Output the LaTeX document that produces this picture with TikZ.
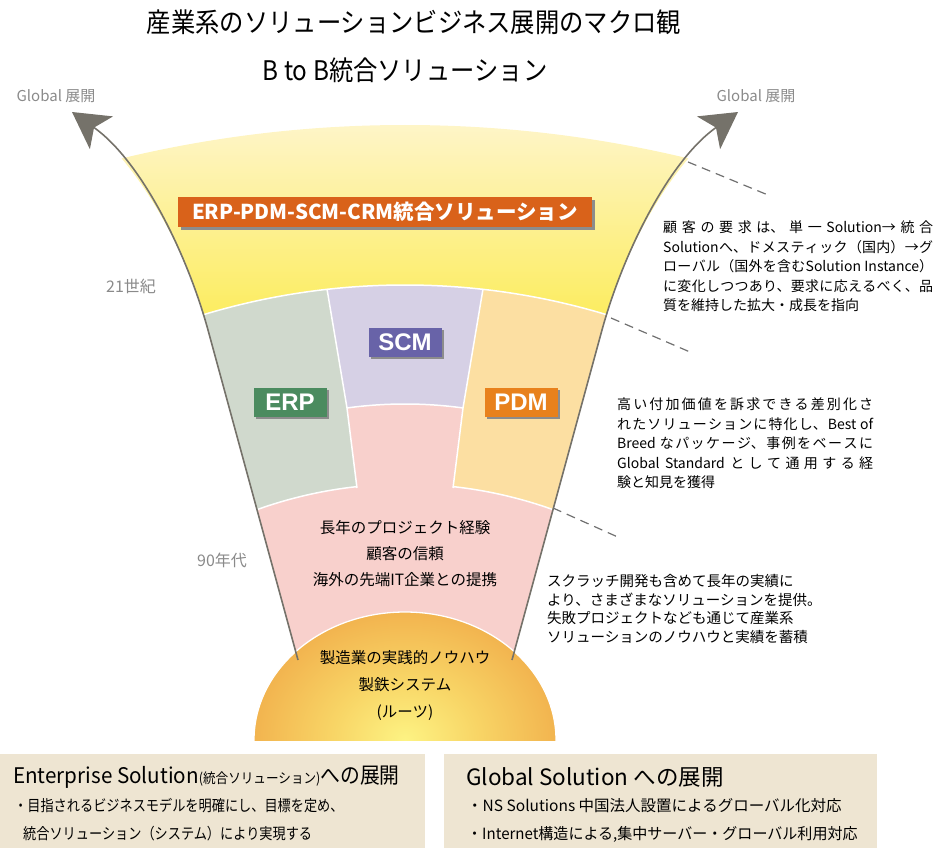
\documentclass[tikz,border=0pt]{standalone}
\usepackage{fontspec}
\usepackage{graphicx}
\setmainfont{Noto Sans CJK JP}
\newfontfamily\lsb{Liberation Sans}
\usetikzlibrary{arrows.meta,shadows}

\definecolor{fangray}{HTML}{75726A}
\definecolor{ytop}{HTML}{FEF5CA}
\definecolor{ybot}{HTML}{FCEC58}
\definecolor{pinkc}{HTML}{F8D0CC}
\definecolor{erpc}{HTML}{D0D9CD}
\definecolor{scmc}{HTML}{D6D0E5}
\definecolor{pdmc}{HTML}{FCDFA2}
\definecolor{erpbox}{HTML}{4B8B5F}
\definecolor{scmbox}{HTML}{6863A8}
\definecolor{pdmbox}{HTML}{E8811C}
\definecolor{bannerc}{HTML}{D9621A}
\definecolor{beige}{HTML}{EEE5D2}
\definecolor{labgray}{HTML}{8A8A8A}
\definecolor{dashc}{HTML}{707070}
\definecolor{domein}{HTML}{FDF383}
\definecolor{domemid}{HTML}{F8D566}
\definecolor{domeout}{HTML}{F2B44F}
\pgfdeclareradialshading{domeshade}{\pgfpoint{0bp}{0bp}}{color(0bp)=(domein); color(12bp)=(domemid); color(25bp)=(domeout); color(50bp)=(domeout)}

\newcommand\jasetup{\XeTeXlinebreaklocale "ja"\XeTeXlinebreakskip=0pt plus 3pt\relax}
\newcommand\notefont{\jasetup\fontsize{14}{19.5}\selectfont}

\def\fanpath{(306,690) -- (298,660) -- (208,330) .. controls (186,250) and (140,160) .. (72,112) -- (72,0) -- (738,0) -- (738,112) .. controls (670,160) and (624,250) .. (602,330) -- (512,660) -- (504,690) -- cycle}
\def\erpzone{(0,200) -- (312,200) -- (327,290) -- (347,408) -- (357,488) -- (367,600) -- (0,600) -- cycle}
\def\pdmzone{(945,200) -- (498,200) -- (483,290) -- (463,408) -- (453,488) -- (443,600) -- (945,600) -- cycle}
\def\scmzone{(312,200) -- (498,200) -- (483,290) -- (463,408) -- (453,488) -- (443,600) -- (367,600) -- (357,488) -- (347,408) -- (327,290) -- cycle}

\begin{document}
\begin{tikzpicture}[x=1pt,y=-1pt,
  fanline/.style={draw=fangray, line width=1.6pt},
  dashline/.style={draw=dashc, line width=1.2pt, dash pattern=on 9pt off 6pt},
  sepline/.style={draw=white, line width=1.5pt},
  lbl/.style={text=white, inner sep=0pt, font=\lsb\bfseries\fontsize{24}{24}\selectfont,
    minimum width=73pt, minimum height=29pt,
    drop shadow={shadow xshift=2.5pt, shadow yshift=-2.5pt, fill=black!45, opacity=1}},
  graylab/.style={text=labgray, inner sep=0pt, font=\fontsize{15}{15}\selectfont},
  body/.style={inner sep=0pt, align=center, font=\fontsize{15.5}{26}\selectfont},
  blk/.style={inner sep=0pt, anchor=north west, align=justify, font=\notefont},
  boxbg/.style={fill=beige, inner sep=0pt, anchor=north west, minimum height=94pt},
  boxtxt/.style={inner sep=0pt, anchor=west}
]
\useasboundingbox (0,0) rectangle (945,848);

% ---------- fan bands ----------
\begin{scope}
  \clip \fanpath;
  \begin{scope}
    \clip (405,1332) circle (1207);
    \shade[top color=ytop, bottom color=ybot] (60,120) rectangle (750,330);
  \end{scope}
  \fill[pinkc] (405,980) circle (695);
  \begin{scope}
    \clip (405,980) circle (695);
    \begin{scope}
      \clip \erpzone;
      \fill[erpc, even odd rule] (0,0) rectangle (945,848) (405,922) circle (438);
    \end{scope}
    \begin{scope}
      \clip \pdmzone;
      \fill[pdmc, even odd rule] (0,0) rectangle (945,848) (405,922) circle (438);
    \end{scope}
    \begin{scope}
      \clip \scmzone;
      \fill[scmc, even odd rule] (0,0) rectangle (945,848) (405,826) circle (422);
    \end{scope}
  \end{scope}
  \draw[sepline] (405,980) circle (695);
  \begin{scope}
    \clip \erpzone;
    \draw[sepline] (405,922) circle (438);
  \end{scope}
  \begin{scope}
    \clip \pdmzone;
    \draw[sepline] (405,922) circle (438);
  \end{scope}
  \begin{scope}
    \clip \scmzone;
    \draw[sepline] (405,826) circle (422);
  \end{scope}
  \draw[sepline] (327,289) -- (347,408) -- (357,488);
  \draw[sepline] (483,289) -- (463,408) -- (453,488);
\end{scope}

% ---------- dome ----------
\begin{scope}
  \clip (240,590) rectangle (570,740);
  \shade[shading=domeshade] (405,740) ellipse [x radius=151, y radius=128];
  \draw[white, line width=1.3pt] (405,740) ellipse [x radius=151, y radius=128];
\end{scope}

% ---------- fan edges with arrows ----------
\coordinate (lbot) at (298,660);
\coordinate (ltip) at (72,112);
\coordinate (rbot) at (512,660);
\coordinate (rtip) at (738,112);
\draw[fanline, -{Stealth[length=36pt, width=40pt, inset=9pt]}]
  (lbot) -- (208,330) .. controls (186,250) and (140,160) .. (ltip);
\draw[fanline, -{Stealth[length=36pt, width=40pt, inset=9pt]}]
  (rbot) -- (602,330) .. controls (624,250) and (670,160) .. (rtip);

% ---------- dashed leaders ----------
\coordinate (d1a) at (688,162); \coordinate (d1b) at (768,195);
\coordinate (d2a) at (611,318); \coordinate (d2b) at (690,352);
\coordinate (d3a) at (553,508); \coordinate (d3b) at (620,538);
\draw[dashline] (d1a) -- (d1b);
\draw[dashline] (d2a) -- (d2b);
\draw[dashline] (d3a) -- (d3b);

% ---------- titles ----------
\node[inner sep=0pt, font=\fontsize{27}{27}\selectfont] (title1) at (414,22)
  {\scalebox{0.9}[1]{産業系のソリューションビジネス展開のマクロ観}};
\node[inner sep=0pt, font=\fontsize{27}{27}\selectfont] (title2) at (405,70)
  {\scalebox{0.9}[1]{B to B統合ソリューション}};

\node[graylab] (globL) at (56,96) {Global 展開};
\node[graylab] (globR) at (756,96) {Global 展開};
\node[graylab, font=\fontsize{16}{16}\selectfont] (c21) at (131,286) {21世紀};
\node[graylab, font=\fontsize{16}{16}\selectfont] (y90) at (222,560) {90年代};

% ---------- labels ----------
\node[lbl, fill=bannerc, minimum width=414pt, minimum height=30pt,
      font=\bfseries\fontsize{20.5}{20.5}\selectfont] (banner) at (385,212)
  {ERP-PDM-SCM-CRM統合ソリューション};
\node[lbl, fill=erpbox] (erp) at (290,402) {ERP};
\node[lbl, fill=scmbox] (scm) at (405,342) {SCM};
\node[lbl, fill=pdmbox] (pdm) at (521,402) {PDM};

\node[body] (exp) at (405,554) {長年のプロジェクト経験\\顧客の信頼\\海外の先端IT企業との提携};
\node[body, font=\fontsize{15.5}{27}\selectfont] (root) at (405,685) {製造業の実践的ノウハウ\\製鉄システム\\(ルーツ)};

% ---------- right-hand notes ----------
\node[blk, text width=270pt] (note1) at (663,221)
  {顧客の要求は、単一Solution→統合\linebreak
   Solutionへ、ドメスティック（国内）→グ\linebreak
   ローバル（国外を含むSolution Instance）\linebreak
   に変化しつつあり、要求に応えるべく、品\linebreak
   質を維持した拡大・成長を指向};
\node[blk, text width=256pt] (note2) at (617,398)
  {高い付加価値を訴求できる差別化さ\linebreak
   れたソリューションに特化し、Best of\linebreak
   Breed なパッケージ、事例をベースに\linebreak
   Global Standard として通用する経\linebreak
   験と知見を獲得};
\node[inner sep=0pt, anchor=north west, align=left,
      font=\fontsize{14.5}{18.7}\selectfont] (note3) at (547,574)
  {スクラッチ開発も含めて長年の実績に\\
   より、さまざまなソリューションを提供。\\
   失敗プロジェクトなども通じて産業系\\
   ソリューションのノウハウと実績を蓄積};

% ---------- bottom boxes ----------
\node[boxbg, minimum width=425pt] (boxL) at (0,754) {};
\node[boxbg, minimum width=433pt] (boxR) at (444,754) {};

\node[boxtxt] (tL) at (13,777)
  {\fontsize{21.5}{21.5}\selectfont\scalebox{0.96}[1]{Enterprise Solution}\scalebox{0.9}[1]{\fontsize{14}{14}\selectfont(統合ソリューション)}\scalebox{0.9}[1]{\fontsize{22}{22}\selectfont への展開}};
\node[boxtxt, font=\fontsize{15.5}{15.5}\selectfont] (bL1) at (14,806)
  {\scalebox{0.85}[1]{・目指されるビジネスモデルを明確にし、目標を定め、}};
\node[boxtxt, font=\fontsize{15.5}{15.5}\selectfont] (bL2) at (23,834)
  {\scalebox{0.85}[1]{統合ソリューション（システム）により実現する}};

\node[boxtxt, font=\fontsize{22.5}{22.5}\selectfont] (tR) at (466,777) {Global Solution への展開};
\node[boxtxt, font=\fontsize{15.5}{15.5}\selectfont] (bR1) at (467,806)
  {・NS Solutions 中国法人設置によるグローバル化対応};
\node[boxtxt, font=\fontsize{15.5}{15.5}\selectfont] (bR2) at (467,834)
  {\scalebox{0.97}[1]{・Internet構造による,集中サーバー・グローバル利用対応}};
\end{tikzpicture}
\end{document}
